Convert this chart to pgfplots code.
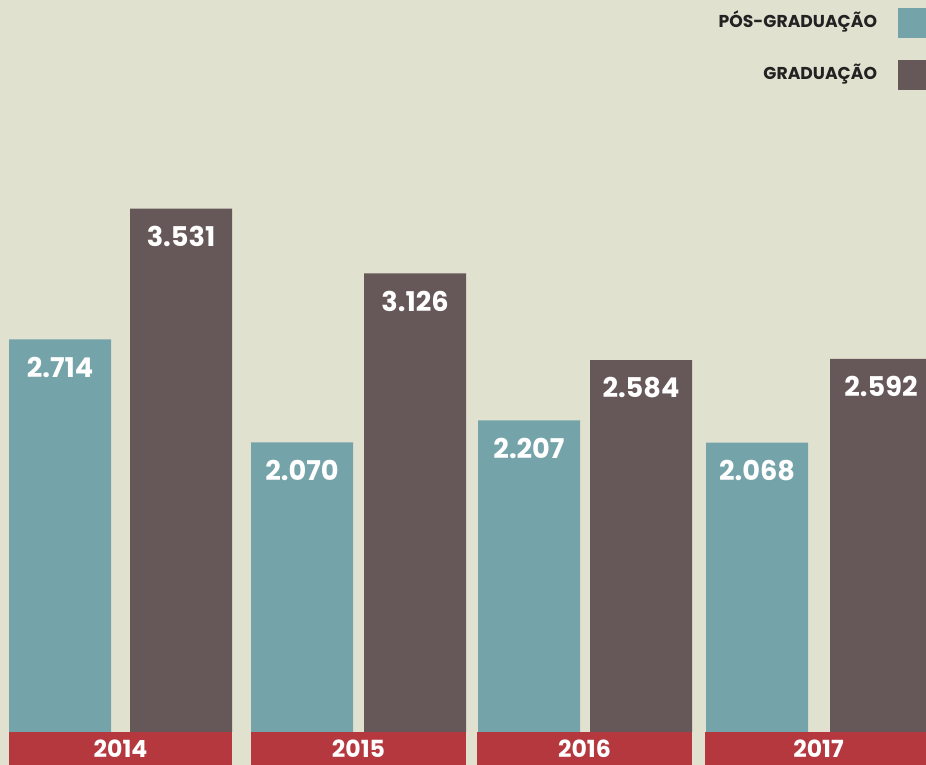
\documentclass[border=0pt]{standalone}
\usepackage{fontspec}
\setmainfont{Poppins}
\usepackage{pgfplots}
\pgfplotsset{compat=1.18}
\definecolor{bg}{HTML}{E1E1D0}
\definecolor{teal1}{HTML}{74A3A9}
\definecolor{brown1}{HTML}{665758}
\definecolor{red1}{HTML}{B5383F}
\definecolor{txt}{HTML}{222222}
\begin{document}
\begin{tikzpicture}
\fill[bg] (0,-16.5pt) rectangle (463pt,366pt);
\clip (0,-16.5pt) rectangle (463pt,366pt);
\useasboundingbox (0,-16.5pt) rectangle (463pt,366pt);
\begin{axis}[
  at={(0,0)}, anchor=south west,
  scale only axis, width=463pt, height=366pt,
  xmin=0, xmax=926, ymin=260, ymax=4835,
  axis line style={draw=none},
  ytick=\empty,
  xtick={120.5,358.5,584.5,818.5},
  xticklabels={\makebox[111.5pt]{2014},\makebox[107.5pt]{2015},\makebox[107.5pt]{2016},\makebox[113.5pt]{2017}},
  major tick length=0pt,
  xticklabel style={fill=red1, text=white, font=\bfseries\fontsize{11.8}{11.8}\selectfont, inner xsep=0pt, inner ysep=0pt, minimum height=16.5pt, anchor=north},
  legend style={at={(1.0022,1)}, anchor=north east, yshift=-4pt, draw=none, fill=none, inner sep=0pt, outer sep=0pt, row sep=11pt, column sep=10.5pt, nodes={inner sep=0pt, text=txt, font=\bfseries\fontsize{8.6}{8.6}\selectfont}},
  legend cell align=right,
  legend plot pos=right,
  every node near coord/.style={anchor=north, yshift=-8.5pt, inner sep=0pt, text=white, font=\bfseries\fontsize{13.6}{13.6}\selectfont},
]
\addplot[ybar, bar width=102, bar shift=0pt, fill=teal1, draw=none,
  legend image code/.code={\fill[teal1] (0pt,-8.5pt) rectangle (15pt,6.5pt);},
  nodes near coords, point meta=explicit symbolic]
  coordinates {(60,2714)[2.714] (302,2070)[2.070] (529,2207)[2.207] (757,2068)[2.068]};
\addlegendentry{PÓS-GRADUAÇÃO}
\addplot[ybar, bar width=102, bar shift=0pt, fill=brown1, draw=none,
  legend image code/.code={\fill[brown1] (0pt,-8.5pt) rectangle (15pt,6.5pt);},
  nodes near coords, point meta=explicit symbolic]
  coordinates {(181,3531)[3.531] (415,3126)[3.126] (641,2584)[2.584] (881,2592)[2.592]};
\addlegendentry{GRADUAÇÃO}
\end{axis}
\end{tikzpicture}
\end{document}
